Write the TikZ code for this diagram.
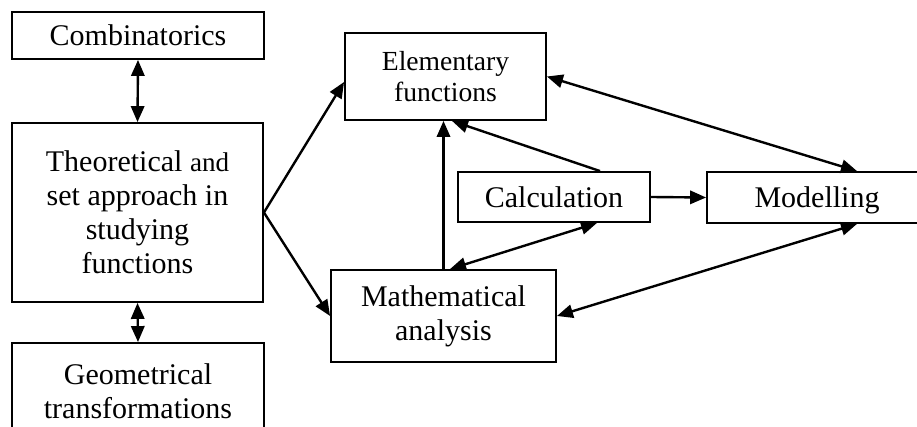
\documentclass[tikz,border=0pt]{standalone}
\usepackage{fontspec}
\setmainfont{Liberation Serif}
\usetikzlibrary{arrows.meta,calc}
\begin{document}
\begin{tikzpicture}[x=0.75pt,y=-0.75pt,
  box/.style={draw, line width=1.4pt, inner sep=0pt, align=center,
    font=\fontsize{22.5pt}{25.5pt}\selectfont},
  smallbox/.style={box, font=\fontsize{20.7pt}{23.3pt}\selectfont},
  conn/.style={line width=1.8pt},
  >={Triangle[length=12pt,width=10pt]}]
\useasboundingbox (0,0) rectangle (917,427);
\clip (0,0) rectangle (917,427);
\node[box, minimum width=189pt, minimum height=35.25pt] (comb) at (138,35.5) {Combinatorics};
\node[box, minimum width=188.25pt, minimum height=134.25pt] (theo) at (137.5,212.5)
  {Theoretical {\fontsize{20.3pt}{25.5pt}\selectfont and}\\set approach in\\studying\\functions};
\node[box, minimum width=189pt, minimum height=72pt] (geo) at (138,391) {Geometrical\\transformations};
\node[smallbox, minimum width=150.75pt, minimum height=65.25pt] (elem) at (445.5,76.5) {Elementary\\functions};
\node[box, minimum width=144pt, minimum height=37.5pt] (calc) at (554,197) {Calculation};
\node[box, minimum width=165pt, minimum height=38.25pt, text depth=0pt] (model) at (817,197.5) {Modelling};
\node[box, minimum width=168.75pt, minimum height=69pt] (math) at (443.5,316) {Mathematical\\analysis};
\coordinate (elemW) at ($(elem.west)+(0,5.5)$);
\coordinate (elemS1) at (math.north |- elem.south);
\coordinate (elemS2) at ($(elem.south)+(6.5,0)$);
\coordinate (calcN) at ($(calc.north)+(46,0)$);
\coordinate (calcS) at ($(calc.south)+(43,0)$);
\coordinate (mathN) at ($(math.north)+(6.5,0)$);
\coordinate (modelN) at ($(model.north)+(40,0)$);
\coordinate (modelS) at ($(model.south)+(40,0)$);
\draw[conn,<->] (comb.south) -- (theo.north);
\draw[conn,<->] (theo.south) -- (geo.north);
\draw[conn,->] (theo.east) -- (elemW);
\draw[conn,->] (theo.east) -- (math.west);
\draw[conn,->] (math.north) -- (elemS1);
\draw[conn,->] (calcN) -- (elemS2);
\draw[conn,<->] (mathN) -- (calcS);
\draw[conn,->] (calc.east) -- (model.west);
\draw[conn,<->] (elem.east) -- (modelN);
\draw[conn,<->] (math.east) -- (modelS);
\end{tikzpicture}
\end{document}
